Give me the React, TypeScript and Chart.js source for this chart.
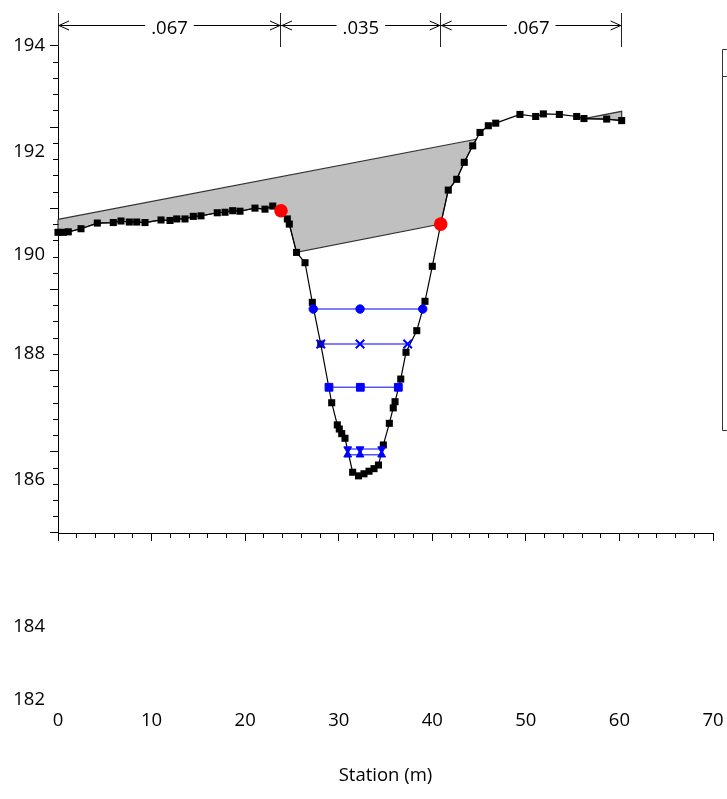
import React, { useEffect, useRef } from 'react';
import { Chart, registerables } from 'chart.js';

Chart.register(...registerables);

// ---------- Data ----------
const groundSta = [0, 0.57, 1.10, 2.46, 4.20, 5.91, 6.73, 7.62, 8.41, 9.30, 11.01, 11.97, 12.69, 13.57, 14.46, 15.28, 17.02, 17.85, 18.67, 19.45, 21.05, 22.12, 22.95, 23.83, 24.51, 24.72, 25.49, 26.40, 27.18, 28.08, 29.25, 29.85, 30.06, 30.32, 30.67, 31.49, 32.12, 32.70, 33.24, 33.77, 34.25, 34.77, 35.41, 35.83, 36.02, 36.63, 37.19, 38.34, 39.22, 40.00, 40.90, 41.71, 42.61, 43.42, 44.32, 45.10, 45.99, 46.78, 49.37, 51.05, 51.87, 53.58, 55.43, 56.21, 58.64, 60.24];
const groundElev = [190.38, 190.38, 190.39, 190.45, 190.56, 190.57, 190.60, 190.58, 190.58, 190.57, 190.62, 190.61, 190.64, 190.64, 190.69, 190.70, 190.76, 190.77, 190.80, 190.79, 190.85, 190.83, 190.89, 190.80, 190.64, 190.54, 189.99, 189.79, 189.02, 188.21, 187.07, 186.64, 186.56, 186.47, 186.38, 185.72, 185.65, 185.69, 185.74, 185.79, 185.86, 186.25, 186.67, 186.97, 187.09, 187.53, 188.05, 188.47, 189.04, 189.72, 190.54, 191.20, 191.41, 191.74, 192.06, 192.32, 192.45, 192.50, 192.67, 192.63, 192.68, 192.67, 192.63, 192.59, 192.58, 192.55];

const bankSta = [23.83, 40.90];
const bankElev = [190.80, 190.54];

const ws1Sta = [27.28, 32.28, 38.98];
const ws1Elev = 188.89;
const ws2Sta = [28.08, 32.28, 37.37];
const ws2Elev = 188.21;
const ws3Sta = [28.96, 32.31, 36.37];
const ws3Elev = 187.37;
const ws4Sta = [30.96, 32.28, 34.59];
const ws4Elev = 186.17;
const ws5Sta = [30.96, 32.28, 34.59];
const ws5Elev = 186.06;

const deckHighChordSta = [0, 60.24];
const deckHighChordElev = [190.63, 192.73];
const deckLowChordSta = [25.49, 40.90];
const deckLowChordElev = [189.99, 190.54];

const nBreakSta = [0, 23.83, 40.90, 60.24];
const nValues = ['.067', '.035', '.067'];

const xMin = 0;
const xMax = 70;
const xMajorStep = 10;
const xMinorStep = 2;

const yMin = 184.54;
const yMax = 194.64;
const yTickTop = 194;
const yTickStep = 0.31533;
const yTickCount = 31;
const yMajorEvery = 5;
const yTickLabels = ['194', '192', '190', '188', '186'];
const yTickLabelElev = [194, 191.95, 189.94, 188.02, 185.57];
const yExtraLabels = ['184', '182'];
const yExtraLabelElev = [182.715, 181.30];

const xTitle = 'Station (m)';

// ---------- Styling ----------
const FONT_FAMILY = "'Open Sans', sans-serif";
const FONT_SIZE = 18.5;

type P = { x: number; y: number };

function hcAt(x: number) {
  return (
    deckHighChordElev[0] +
    ((deckHighChordElev[1] - deckHighChordElev[0]) * (x - deckHighChordSta[0])) /
      (deckHighChordSta[1] - deckHighChordSta[0])
  );
}

function deckPolygons(): P[][] {
  const prof: P[] = [];
  groundSta.forEach((s, i) => {
    if (s < deckLowChordSta[0] - 1e-9) prof.push({ x: s, y: groundElev[i] });
  });
  prof.push({ x: deckLowChordSta[0], y: deckLowChordElev[0] });
  prof.push({ x: deckLowChordSta[1], y: deckLowChordElev[1] });
  groundSta.forEach((s, i) => {
    if (s > deckLowChordSta[1] + 1e-9) prof.push({ x: s, y: groundElev[i] });
  });
  const polys: P[][] = [];
  let cur: P[] | null = null;
  for (let i = 0; i < prof.length; i++) {
    const p = prof[i];
    const below = p.y < hcAt(p.x);
    if (i === 0) {
      if (below) cur = [{ x: p.x, y: hcAt(p.x) }, p];
      continue;
    }
    const q = prof[i - 1];
    const qb = q.y < hcAt(q.x);
    if (qb !== below) {
      const dq = q.y - hcAt(q.x);
      const dp = p.y - hcAt(p.x);
      const t = dq / (dq - dp);
      const c = { x: q.x + t * (p.x - q.x), y: q.y + t * (p.y - q.y) };
      if (below) {
        cur = [c, p];
      } else if (cur) {
        cur.push(c);
        cur.push(cur[0]);
        polys.push(cur);
        cur = null;
      }
    } else if (below && cur) {
      cur.push(p);
    }
  }
  if (cur) {
    const last = prof[prof.length - 1];
    cur.push({ x: last.x, y: hcAt(last.x) });
    cur.push(cur[0]);
    polys.push(cur);
  }
  return polys;
}

const wsLine = 'rgba(40,40,255,0.8)';
const wsBlue = '#0000ff';

function wsDataset(sta: number[], elev: number, extra: any) {
  return {
    label: 'WS',
    data: sta.map((s) => ({ x: s, y: elev })),
    showLine: true,
    borderColor: wsLine,
    borderWidth: 1.5,
    pointBackgroundColor: wsBlue,
    pointBorderColor: wsBlue,
    pointBorderWidth: 1,
    order: 0,
    clip: false,
    ...extra,
  };
}

const overlayPlugin = {
  id: 'overlay',
  afterDraw(chart: any) {
    const { ctx, chartArea, scales } = chart;
    const xs = scales.x;
    const ys = scales.y;
    const al = (v: number) => Math.round(v - 0.5) + 0.5;
    ctx.save();
    ctx.strokeStyle = '#000';
    ctx.lineWidth = 1;
    ctx.beginPath();
    // x minor ticks
    for (let v = xMin + xMinorStep; v < xMax; v += xMinorStep) {
      if (Math.abs(v % xMajorStep) < 1e-6) continue;
      const px = al(xs.getPixelForValue(v));
      ctx.moveTo(px, chartArea.bottom);
      ctx.lineTo(px, chartArea.bottom + 5);
    }
    // y ticks
    for (let k = 0; k < yTickCount; k++) {
      const py = al(ys.getPixelForValue(yTickTop - k * yTickStep));
      const len = k % yMajorEvery === 0 ? 8 : 5;
      ctx.moveTo(chartArea.left - len, py);
      ctx.lineTo(chartArea.left + 0.5, py);
    }
    ctx.stroke();

    // extra y labels below axis
    ctx.fillStyle = '#000';
    ctx.font = `${FONT_SIZE}px ${FONT_FAMILY}`;
    ctx.textAlign = 'right';
    ctx.textBaseline = 'middle';
    yExtraLabels.forEach((t, i) => {
      ctx.fillText(t, chartArea.left - 13, ys.getPixelForValue(yExtraLabelElev[i]));
    });

    // n-value annotations
    const yLine = chartArea.top + 12.5;
    ctx.strokeStyle = '#222';
    ctx.beginPath();
    nBreakSta.forEach((s) => {
      const px = al(xs.getPixelForValue(s));
      ctx.moveTo(px, chartArea.top);
      ctx.lineTo(px, chartArea.top + 34);
    });
    ctx.stroke();
    ctx.strokeStyle = '#000';
    ctx.textAlign = 'center';
    ctx.textBaseline = 'alphabetic';
    ctx.beginPath();
    for (let i = 0; i < nValues.length; i++) {
      const x1 = xs.getPixelForValue(nBreakSta[i]);
      const x2 = xs.getPixelForValue(nBreakSta[i + 1]);
      const cx = (x1 + x2) / 2;
      const w = ctx.measureText(nValues[i]).width;
      ctx.moveTo(x1, yLine);
      ctx.lineTo(cx - w / 2 - 6, yLine);
      ctx.moveTo(cx + w / 2 + 6, yLine);
      ctx.lineTo(x2, yLine);
      ctx.moveTo(x1 + 11, yLine - 4.5);
      ctx.lineTo(x1 + 1, yLine);
      ctx.lineTo(x1 + 11, yLine + 4.5);
      ctx.moveTo(x2 - 11, yLine - 4.5);
      ctx.lineTo(x2 - 1, yLine);
      ctx.lineTo(x2 - 11, yLine + 4.5);
      ctx.fillText(nValues[i], cx, chartArea.top + 21);
    }
    ctx.stroke();

    // legend frame (cut off at right edge)
    const lx = chartArea.right + 9.5;
    ctx.strokeStyle = '#333';
    ctx.beginPath();
    ctx.rect(lx, 49.5, 40, 381);
    ctx.moveTo(lx, 76.5);
    ctx.lineTo(lx + 40, 76.5);
    ctx.stroke();
    ctx.restore();
  },
};

export default function App() {
  const ref = useRef<HTMLCanvasElement>(null);
  useEffect(() => {
    const canvas = ref.current;
    if (!canvas) return;
    const polys = deckPolygons();
    const chart = new Chart(canvas, {
      type: 'scatter',
      data: {
        datasets: [
          wsDataset(ws1Sta, ws1Elev, { pointStyle: 'circle', pointRadius: 4.2 }),
          wsDataset(ws2Sta, ws2Elev, { pointStyle: 'crossRot', pointRadius: 6, pointBorderWidth: 2 }),
          wsDataset(ws3Sta, ws3Elev, { pointStyle: 'rect', pointRadius: 5.5 }),
          wsDataset(ws4Sta, ws4Elev, { pointStyle: 'triangle', pointRotation: 180, pointRadius: 4.5 }),
          wsDataset(ws5Sta, ws5Elev, { pointStyle: 'triangle', pointRadius: 4.5 }),
          {
            label: 'Bank Sta',
            data: bankSta.map((s, i) => ({ x: s, y: bankElev[i] })),
            showLine: false,
            pointStyle: 'circle',
            pointRadius: 6.8,
            pointBackgroundColor: '#ff0000',
            pointBorderColor: '#ff0000',
            pointBorderWidth: 0,
            order: 1,
            clip: false,
          },
          {
            label: 'Ground',
            data: groundSta.map((s, i) => ({ x: s, y: groundElev[i] })),
            showLine: true,
            borderColor: '#000',
            borderWidth: 1.2,
            pointStyle: 'rect',
            pointRadius: 5,
            pointBackgroundColor: '#000',
            pointBorderColor: '#000',
            pointBorderWidth: 0,
            order: 2,
            clip: false,
          },
          ...polys.map((p) => ({
            label: 'Bridge',
            data: p,
            showLine: true,
            fill: 'shape',
            backgroundColor: '#c0c0c0',
            borderColor: '#333',
            borderWidth: 1.2,
            pointRadius: 0,
            order: 3,
            clip: false,
          })),
        ] as any,
      },
      options: {
        animation: false,
        responsive: false,
        events: [],
        layout: { padding: { top: 13, right: 14, left: 0, bottom: 0 } },
        plugins: { legend: { display: false }, tooltip: { enabled: false } },
        scales: {
          x: {
            type: 'linear',
            min: xMin,
            max: xMax,
            bounds: 'data',
            afterFit: (s: any) => {
              s.height = 266;
              s.paddingLeft = 0;
              s.paddingRight = 0;
              s.paddingTop = 0;
              s.paddingBottom = 0;
            },
            grid: { drawOnChartArea: false, drawTicks: true, tickLength: 8, tickColor: '#000', tickWidth: 1 },
            border: { display: true, color: '#000', width: 1 },
            ticks: {
              stepSize: xMajorStep,
              padding: 169,
              color: '#000',
              autoSkip: false,
              maxRotation: 0,
              font: { family: FONT_FAMILY, size: FONT_SIZE },
            },
            title: {
              display: true,
              text: xTitle,
              color: '#000',
              font: { family: FONT_FAMILY, size: FONT_SIZE },
              padding: { top: 0, bottom: 12 },
            },
          },
          y: {
            type: 'linear',
            min: yMin,
            max: yMax,
            bounds: 'data',
            afterFit: (s: any) => {
              s.width = 58;
              s.paddingLeft = 0;
              s.paddingRight = 0;
              s.paddingTop = 0;
              s.paddingBottom = 0;
            },
            afterBuildTicks: (s: any) => {
              s.ticks = yTickLabelElev.map((v) => ({ value: v }));
            },
            grid: { drawOnChartArea: false, drawTicks: true, tickLength: 8, tickColor: 'rgba(0,0,0,0)' },
            border: { display: true, color: '#000', width: 1 },
            ticks: {
              padding: 5,
              color: '#000',
              autoSkip: false,
              callback: (_v: any, i: number) => yTickLabels[i],
              font: { family: FONT_FAMILY, size: FONT_SIZE },
            },
          },
        },
      },
      plugins: [overlayPlugin],
    } as any);
    return () => chart.destroy();
  }, []);
  return (
    <div style={{ position: 'absolute', left: 0, top: 0, width: 727, height: 799 }}>
      <canvas ref={ref} width={727} height={799} style={{ display: 'block', width: 727, height: 799 }} />
    </div>
  );
}
